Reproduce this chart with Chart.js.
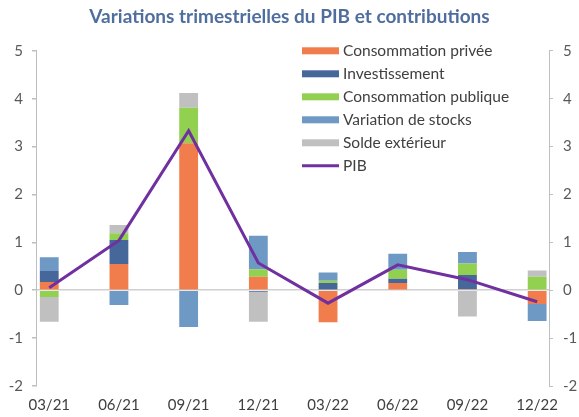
<html lang="fr">
<head>
    <meta charset="UTF-8">
    <title>Variations trimestrielles du PIB et contributions</title>
    <script src="https://cdn.jsdelivr.net/npm/chart.js"></script>
    <style>
        body { margin: 0; background: #fff; }
        #wrap { width: 579px; height: 417px; }
    </style>
</head>
<body>
    <div id="wrap"><canvas id="pibChart" width="579" height="417"></canvas></div>

    <script>
        // trimestres
        const categories = ['03/21', '06/21', '09/21', '12/21', '03/22', '06/22', '09/22', '12/22'];

        // contributions (points de %)
        const consoPrivee    = [0.17, 0.55, 3.07, 0.28, -0.67, 0.15, 0.02, -0.29];
        const investissement = [0.23, 0.50, 0.00, -0.03, 0.15, 0.09, 0.30, 0.00];
        const consoPublique  = [-0.14, 0.14, 0.74, 0.16, 0.05, 0.19, 0.24, 0.28];
        const stocks         = [0.29, -0.31, -0.77, 0.70, 0.17, 0.33, 0.24, -0.35];
        const soldeExt       = [-0.52, 0.17, 0.31, -0.63, 0.00, 0.00, -0.55, 0.13];
        const pib            = [0.05, 1.04, 3.33, 0.57, -0.27, 0.53, 0.22, -0.24];

        const yTicks = [-2, -1, 0, 1, 2, 3, 4, 5];

        const font = 'Lato';
        const toXY = arr => arr.map((v, i) => ({ x: i, y: v }));

        function bar(label, values, color) {
            return {
                type: 'bar', label: label, data: toXY(values),
                backgroundColor: color, borderWidth: 0,
                stack: 'contrib', order: 1,
                barPercentage: 0.27, categoryPercentage: 1
            };
        }

        // legende dessinee dans la zone du graphique, en haut a droite
        const insideLegend = {
            id: 'insideLegend',
            afterDatasetsDraw(chart) {
                const ctx = chart.ctx;
                const area = chart.chartArea;
                const x0 = area.left + 266;
                let y = area.top;
                ctx.save();
                ctx.font = '15.5px ' + font;
                ctx.textBaseline = 'middle';
                chart.data.datasets.forEach(ds => {
                    if (ds.type === 'line') {
                        ctx.strokeStyle = ds.borderColor;
                        ctx.lineWidth = 3;
                        ctx.beginPath();
                        ctx.moveTo(x0, y);
                        ctx.lineTo(x0 + 37, y);
                        ctx.stroke();
                    } else {
                        ctx.fillStyle = ds.backgroundColor;
                        ctx.fillRect(x0, y - 3.5, 37, 7);
                    }
                    ctx.fillStyle = '#404040';
                    ctx.fillText(ds.label, x0 + 41, y);
                    y += 23;
                });
                ctx.restore();
            }
        };

        new Chart(document.getElementById('pibChart'), {
            data: {
                datasets: [
                    bar('Consommation privée', consoPrivee, '#F07D4B'),
                    bar('Investissement', investissement, '#46679A'),
                    bar('Consommation publique', consoPublique, '#92D050'),
                    bar('Variation de stocks', stocks, '#6E99C4'),
                    bar('Solde extérieur', soldeExt, '#C0C0C0'),
                    {
                        type: 'line', label: 'PIB', data: toXY(pib),
                        borderColor: '#7030A0', borderWidth: 3,
                        pointRadius: 0, tension: 0,
                        stack: 'pib', order: 0
                    }
                ]
            },
            options: {
                responsive: false,
                animation: false,
                layout: { padding: { left: 0, right: 0, top: 0, bottom: 5 } },
                plugins: {
                    legend: { display: false },
                    tooltip: { enabled: false },
                    title: {
                        display: true,
                        text: 'Variations trimestrielles du PIB et contributions',
                        color: '#4F6E9E',
                        font: { family: font, size: 19, weight: 'bold' },
                        padding: { top: 5, bottom: 23 }
                    }
                },
                scales: {
                    x: {
                        type: 'linear',
                        offset: false,
                        min: -0.19, max: 7.17,
                        stacked: true,
                        grid: { display: false, drawTicks: false },
                        border: { display: false },
                        afterBuildTicks: s => { s.ticks = categories.map((c, i) => ({ value: i })); },
                        afterFit: s => { s.height = 26; },
                        ticks: {
                            padding: 10,
                            maxRotation: 0,
                            color: '#404040',
                            font: { family: font, size: 15 },
                            callback: v => categories[v]
                        }
                    },
                    y: {
                        position: 'left',
                        stacked: true,
                        min: -2, max: 5,
                        afterBuildTicks: s => { s.ticks = yTicks.map(v => ({ value: v })); },
                        afterFit: s => { s.width = 36; },
                        grid: {
                            color: c => c.tick && c.tick.value === 0 ? '#D0D0D0' : 'rgba(0,0,0,0)',
                            lineWidth: 1.5,
                            tickColor: '#BFBFBF',
                            tickLength: 4
                        },
                        border: { display: true, color: '#BFBFBF', width: 1 },
                        ticks: {
                            padding: 9,
                            color: '#595959',
                            font: { family: font, size: 15 }
                        }
                    },
                    y2: {
                        position: 'right',
                        min: -2, max: 5,
                        afterBuildTicks: s => { s.ticks = yTicks.map(v => ({ value: v })); },
                        afterFit: s => { s.width = 30; },
                        grid: {
                            drawOnChartArea: false,
                            tickColor: '#BFBFBF',
                            tickLength: 4
                        },
                        border: { display: true, color: '#BFBFBF', width: 1 },
                        ticks: {
                            padding: 10,
                            color: '#595959',
                            font: { family: font, size: 15 }
                        }
                    }
                }
            },
            plugins: [insideLegend]
        });
    </script>
</body>
</html>
